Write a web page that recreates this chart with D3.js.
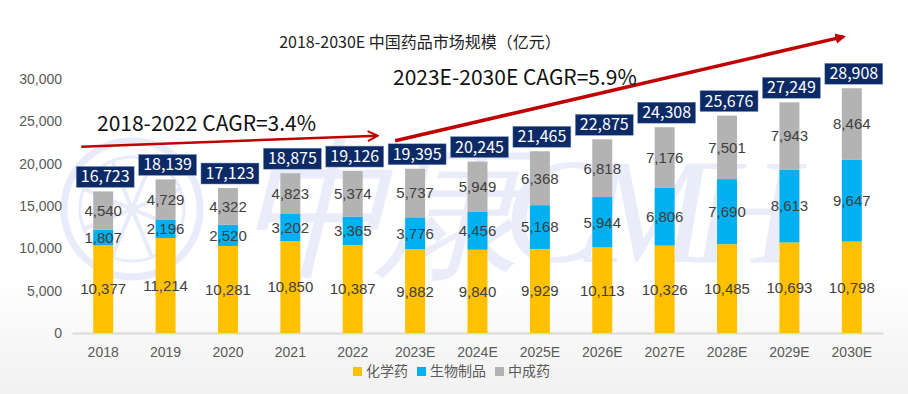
<!DOCTYPE html>
<html>
  <head>
    <meta charset="utf-8">
    <title>中国药品市场规模</title>
    <script src="https://d3js.org/d3.v7.min.js"></script>
    <style>
      body { margin: 0; background: #fff; }
      svg { display: block; }
      .tick text { fill: #595959; font-family: "Liberation Sans", Arial, sans-serif; font-size: 14px; }
      .seg { fill: #404040; font-family: "Liberation Sans", Arial, sans-serif; font-size: 15px; }
      .total { fill: #fff; font-family: "Noto Sans CJK SC", sans-serif; font-size: 16px; }
      .cagr { fill: #111; font-family: "Noto Sans CJK SC", sans-serif; font-size: 21px; }
      .legend text { fill: #595959; font-family: "Noto Sans CJK SC", sans-serif; font-size: 14px; }
    </style>
  </head>
  <body>
    <svg id="chart" width="908" height="394">
      <defs>
        <linearGradient id="bg" x1="0" x2="0" y1="0" y2="1">
          <stop offset="0.7" stop-color="#fff"></stop>
          <stop offset="1" stop-color="#f1f1f1"></stop>
        </linearGradient>
        <marker id="head" viewBox="0 0 10 10" refX="9" refY="5" markerWidth="5" markerHeight="5" orient="auto">
          <path d="M1,1 L9,5 L1,9" fill="none" stroke="#c00000" stroke-width="1.6"></path>
        </marker>
        <marker id="head2" viewBox="0 0 10 10" refX="8" refY="5" markerWidth="3" markerHeight="3" orient="auto">
          <path d="M0,0 L10,5 L0,10 Z" fill="#c00000"></path>
        </marker>
      </defs>
    </svg>
    <script>
      // data
      years = ["2018", "2019", "2020", "2021", "2022", "2023E", "2024E", "2025E", "2026E", "2027E", "2028E", "2029E", "2030E"];
      chemical = [10377, 11214, 10281, 10850, 10387, 9882, 9840, 9929, 10113, 10326, 10485, 10693, 10798];
      biologic = [1807, 2196, 2520, 3202, 3365, 3776, 4456, 5168, 5944, 6806, 7690, 8613, 9647];
      tcm = [4540, 4729, 4322, 4823, 5374, 5737, 5949, 6368, 6818, 7176, 7501, 7943, 8464];
      totals = [16723, 18139, 17123, 18875, 19126, 19395, 20245, 21465, 22875, 24308, 25676, 27249, 28908];
      seriesNames = ["化学药", "生物制品", "中成药"];
      colours = ["#ffc000", "#00b0f0", "#b3b3b3"];
      yTicks = [0, 5000, 10000, 15000, 20000, 25000, 30000];
      cagrLabels = ["2018-2022 CAGR=3.4%", "2023E-2030E CAGR=5.9%"];

      svg = d3.select("#chart");
      svg.append("rect").attr("width", 908).attr("height", 394).attr("fill", "url(#bg)");

      x = d3.scaleBand().domain(years).range([72, 883]).paddingInner(0.68).paddingOuter(0.34);
      y = d3.scaleLinear().domain([0, 30000]).range([333, 79]);

      // watermark
      wm = svg.append("g").attr("opacity", 0.11).attr("fill", "none").attr("stroke", "#3b50d8");
      wm.append("circle").attr("cx", 132).attr("cy", 209).attr("r", 68).attr("stroke-width", 7);
      wm.append("circle").attr("cx", 132).attr("cy", 209).attr("r", 52).attr("stroke-width", 3);
      d3.range(8).forEach(function(i) {
        a = i * Math.PI / 4 + Math.PI / 8;
        wm.append("line")
          .attr("x1", 132).attr("y1", 209)
          .attr("x2", 132 + 52 * Math.cos(a)).attr("y2", 209 + 52 * Math.sin(a))
          .attr("stroke-width", 4);
      });
      svg.append("text")
        .attr("x", 240).attr("y", 262)
        .attr("fill", "#3b50d8").attr("opacity", 0.1)
        .style("font-family", "'Liberation Serif', serif").style("font-style", "italic")
        .style("font-size", "150px")
        .attr("textLength", 560)
        .text("中康CMH");

      // title
      svg.append("text")
        .attr("x", 420).attr("y", 48)
        .attr("text-anchor", "middle")
        .style("font-family", "'Noto Sans CJK SC', sans-serif").style("font-size", "16px")
        .attr("fill", "#222")
        .text("2018-2030E 中国药品市场规模（亿元）");

      // y axis
      yAxis = d3.axisLeft(y).tickValues(yTicks).tickFormat(d3.format(",")).tickSize(0).tickPadding(10);
      svg.append("g").attr("transform", "translate(72,0)").call(yAxis)
        .call(function(g) { g.select(".domain").remove(); });

      // x axis
      xAxis = d3.axisBottom(x).tickSize(0).tickPadding(14);
      svg.append("g").attr("transform", "translate(0," + y(0) + ")").call(xAxis)
        .call(function(g) { g.select(".domain").attr("stroke", "#d9d9d9").attr("stroke-width", 2); });

      // stacks
      table = years.map(function(yr, i) { return { year: yr, s0: chemical[i], s1: biologic[i], s2: tcm[i] }; });
      stack = d3.stack().keys(["s0", "s1", "s2"])(table);
      layers = svg.append("g").selectAll("g").data(stack).enter().append("g")
        .attr("fill", function(d, i) { return colours[i]; });
      layers.selectAll("rect").data(function(d) { return d; }).enter().append("rect")
        .attr("x", function(d) { return x(d.data.year); })
        .attr("width", x.bandwidth())
        .attr("y", function(d) { return y(d[1]); })
        .attr("height", function(d) { return y(d[0]) - y(d[1]); });
      labels = svg.append("g");
      stack.forEach(function(layer) {
        labels.selectAll(null).data(layer).enter().append("text")
          .attr("class", "seg")
          .attr("x", function(d) { return x(d.data.year) + x.bandwidth() / 2; })
          .attr("y", function(d) { return y((d[0] + d[1]) / 2); })
          .attr("dy", "0.36em")
          .attr("text-anchor", "middle")
          .text(function(d) { return d3.format(",")(d[1] - d[0]); });
      });

      // total boxes
      boxes = svg.append("g").selectAll("g").data(totals).enter().append("g")
        .attr("transform", function(d, i) { return "translate(" + (x(years[i]) + x.bandwidth() / 2 + 2) + "," + (y(d) - 4) + ")"; });
      boxes.append("rect")
        .attr("x", -29).attr("y", -21).attr("width", 58).attr("height", 21)
        .attr("fill", "#0b2a66").attr("stroke", "#8aa0c8").attr("stroke-width", 0.5);
      boxes.append("text")
        .attr("class", "total")
        .attr("y", -5).attr("text-anchor", "middle")
        .text(function(d) { return d3.format(",")(d); });

      // CAGR arrows
      svg.append("line")
        .attr("x1", x("2018") - 12).attr("y1", y(22000))
        .attr("x2", x("2022") + 35).attr("y2", y(23300))
        .attr("stroke", "#c00000").attr("stroke-width", 2.5)
        .attr("marker-end", "url(#head)");
      svg.append("line")
        .attr("x1", x("2023E") - 10).attr("y1", y(22700))
        .attr("x2", x("2030E") + 2).attr("y2", y(35000))
        .attr("stroke", "#c00000").attr("stroke-width", 3.5)
        .attr("marker-end", "url(#head2)");
      svg.append("text").attr("class", "cagr").attr("x", 97).attr("y", 131).text(cagrLabels[0]);
      svg.append("text").attr("class", "cagr").attr("x", 393).attr("y", 85).text(cagrLabels[1]);

      // legend
      legend = svg.append("g").attr("class", "legend").attr("transform", "translate(353,367)");
      offsets = [0, 64, 142];
      seriesNames.forEach(function(name, i) {
        item = legend.append("g").attr("transform", "translate(" + offsets[i] + ",0)");
        item.append("rect").attr("width", 9).attr("height", 9).attr("fill", colours[i]);
        item.append("text").attr("x", 13).attr("y", 9).text(name);
      });
    </script>
  </body>
</html>
